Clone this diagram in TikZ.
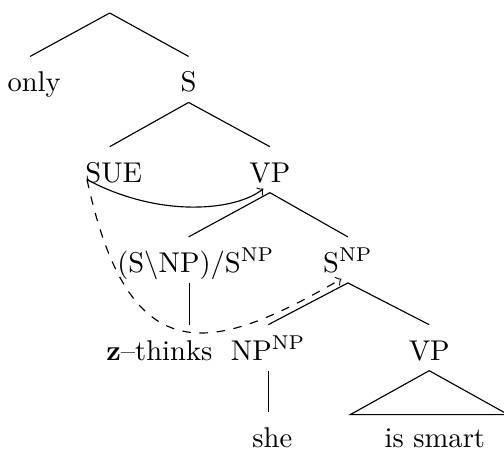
\documentclass[tikz,border=0pt]{standalone}
\usepackage{amsmath}
\usepackage{amssymb}
\usepackage{tikz}

\tikzset{lbl/.style={anchor=base,inner sep=3.5pt,text height=8.7pt,text depth=0pt}}

\begin{document}
\begin{tikzpicture}
\useasboundingbox (0,0) rectangle (6.20,-5.535);
\coordinate (top) at (1.35,-0.16);
\node[lbl] (only) at (0.42,-1.13) {only};\node[lbl] (S) at (2.32,-1.13) {S};
\node[lbl] (SUE) at (1.40,-2.24) {SUE};\node[lbl] (VP) at (3.32,-2.24) {VP};
\node[lbl] (fn) at (2.41,-3.35) {(S$\backslash$NP)/S$^{\mathrm{NP}}$};\node[lbl] (Snp) at (4.28,-3.35) {S$^{\mathrm{NP}}$};
\node[lbl] (thinks) at (1.96,-4.43) {\textbf{z}--thinks};\node[lbl] (NPnp) at (3.30,-4.43) {NP$^{\mathrm{NP}}$};\node[lbl] (VPb) at (5.28,-4.43) {VP};
\node[lbl] (she) at (3.35,-5.51) {she};\node[lbl] (smart) at (5.35,-5.51) {is smart};

\draw (top) -- ([xshift=-0.05cm]only.north);\draw (top) -- (S.north);
\draw (S.south) -- ([xshift=-0.05cm]SUE.north);\draw (S.south) -- (VP.north);
\draw (VP.south) -- ([xshift=-0.09cm]fn.north);\draw (VP.south) -- (Snp.north);
\draw ([xshift=-0.074cm]fn.south) -- ([xshift=-0.074cm]fn.south |- thinks.north);
\draw (Snp.south) -- (NPnp.north);\draw (Snp.south) -- (VPb.north);
\draw (NPnp.south) -- (NPnp.south |- she.north);
\draw (VPb.south) -- ++(-0.97,-0.54) -- ++(1.94,0) -- cycle;

\coordinate (tail) at ([shift={(0.15,0.16)}]SUE.south west);
\draw[->] (tail) .. controls +(0.90,-0.48) and +(-0.33,-0.27) .. ([shift={(-0.08,0.05)}]VP.south);
\draw[->,dashed] (tail) .. controls +(0.52,-2.41) and +(-1.59,-0.92) .. ([shift={(-0.08,0.05)}]Snp.south);
\end{tikzpicture}
\end{document}
